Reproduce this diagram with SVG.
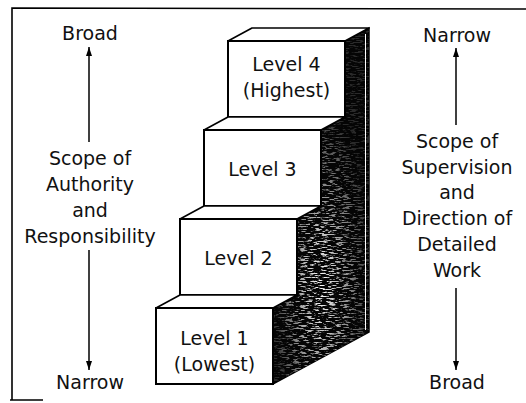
<svg xmlns="http://www.w3.org/2000/svg" width="526" height="403" viewBox="0 0 526 403">
  <style>
    text { font-family: "DejaVu Sans", "Liberation Sans", sans-serif; font-size: 19px; fill: #111; text-anchor: middle; }
    .front { fill: #fff; stroke: #000; stroke-width: 2; }
    .tread { fill: #fff; stroke: #000; stroke-width: 1.6; stroke-linejoin: round; }
    .frame { fill: none; stroke: #000; stroke-width: 1.6; }
    .axis { stroke: #000; stroke-width: 1.5; fill: none; marker-end: url(#head); }
  </style>
  <defs>
    <marker id="head" viewBox="0 0 9 6" refX="9" refY="3" markerWidth="9" markerHeight="6" markerUnits="userSpaceOnUse" orient="auto">
      <path d="M0,0 L9,3 L0,6 z" fill="#000"/>
    </marker>
    <clipPath id="sideClip">
      <polygon points="273,384 273,308 297,295 297,219 321,206 321,130 345,117 345,41 369,28 369,332"/>
    </clipPath>
    <filter id="speckle" x="0" y="0" width="1" height="1">
      <feTurbulence type="fractalNoise" baseFrequency="0.14 0.75" numOctaves="3" seed="7"/>
      <feColorMatrix type="matrix" values="0 0 0 0 1  0 0 0 0 1  0 0 0 0 1  7 0 0 0 -3.6"/>
    </filter>
    <radialGradient id="glow" cx="0.5" cy="0.72" r="0.5">
      <stop offset="0" stop-color="#fff" stop-opacity="1"/>
      <stop offset="0.6" stop-color="#fff" stop-opacity="0.5"/>
      <stop offset="1" stop-color="#fff" stop-opacity="0.15"/>
    </radialGradient>
    <mask id="sideMask">
      <rect x="270" y="25" width="102" height="362" fill="url(#glow)"/>
    </mask>
  </defs>

  <!-- outer frame (open at right and most of the bottom) -->
  <path class="frame" d="M12,400 L12,8 L526,9 M10,400 L43,400"/>

  <!-- shaded right side of the staircase -->
  <g id="stair-side">
    <polygon points="273,384 273,308 297,295 297,219 321,206 321,130 345,117 345,41 369,28 369,332" fill="#050505" stroke="#000" stroke-width="1.5"/>
    <g clip-path="url(#sideClip)" mask="url(#sideMask)">
      <rect x="270" y="25" width="102" height="362" filter="url(#speckle)"/>
    </g>
    <line x1="365.5" y1="34" x2="365.5" y2="330" stroke="#fff" stroke-width="1"/>
  </g>

  <g id="level-4">
    <polygon class="tread" points="228,41 252,28 369,28 345,41"/>
    <rect class="front" x="228" y="41" width="117" height="76"/>
    <text x="286.5" y="71">Level 4</text>
    <text x="286.5" y="97">(Highest)</text>
  </g>

  <g id="level-3">
    <polygon class="tread" points="204,130 228,117 345,117 321,130"/>
    <rect class="front" x="204" y="130" width="117" height="76"/>
    <text x="262.5" y="176">Level 3</text>
  </g>

  <g id="level-2">
    <polygon class="tread" points="180,219 204,206 321,206 297,219"/>
    <rect class="front" x="180" y="219" width="117" height="76"/>
    <text x="238.5" y="265">Level 2</text>
  </g>

  <g id="level-1">
    <polygon class="tread" points="156,308 180,295 297,295 273,308"/>
    <rect class="front" x="156" y="308" width="117" height="76"/>
    <text x="214.5" y="345">Level 1</text>
    <text x="214.5" y="371">(Lowest)</text>
  </g>

  <g id="authority-scale">
    <text x="90" y="40">Broad</text>
    <text x="90" y="165">Scope of</text>
    <text x="90" y="191">Authority</text>
    <text x="90" y="217">and</text>
    <text x="90" y="243">Responsibility</text>
    <text x="90" y="389">Narrow</text>
  </g>

  <g id="supervision-scale">
    <text x="457" y="42">Narrow</text>
    <text x="457" y="148">Scope of</text>
    <text x="457" y="174">Supervision</text>
    <text x="457" y="199">and</text>
    <text x="457" y="225">Direction of</text>
    <text x="457" y="251">Detailed</text>
    <text x="457" y="277">Work</text>
    <text x="457" y="389">Broad</text>
  </g>

  <g id="connectors">
    <line class="axis" x1="89" y1="142" x2="89" y2="47"/>
    <line class="axis" x1="89" y1="250" x2="89" y2="370"/>
    <line class="axis" x1="456" y1="125" x2="456" y2="48"/>
    <line class="axis" x1="456" y1="288" x2="456" y2="370"/>
  </g>
</svg>
